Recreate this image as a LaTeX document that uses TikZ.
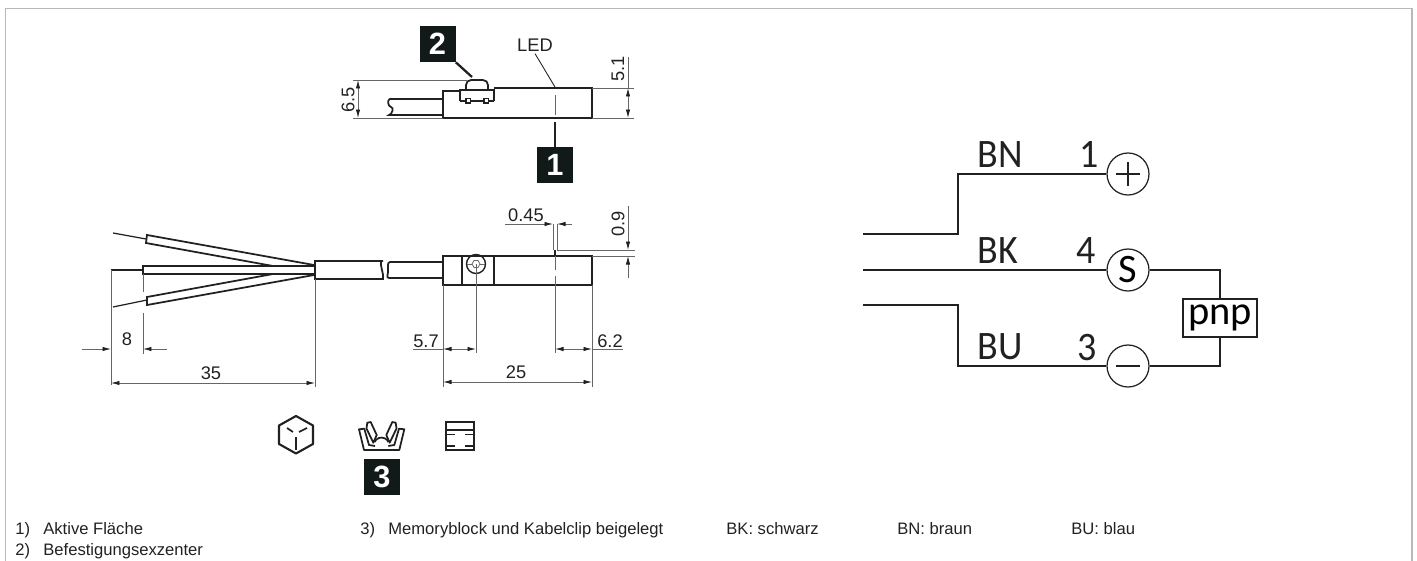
\documentclass[tikz,border=0pt]{standalone}
\usepackage{fontspec}
\setmainfont{Liberation Sans}
\newfontfamily\wiringfont{Carlito}
\usepackage{xcolor}
\definecolor{badgeblack}{rgb}{0.07,0.10,0.10}
\definecolor{framegray}{rgb}{0.72,0.72,0.72}
\definecolor{dimgray}{rgb}{0.40,0.40,0.40}
\definecolor{inkblack}{rgb}{0.13,0.13,0.13}
\usetikzlibrary{arrows.meta}
\usetikzlibrary{positioning}
\tikzset{
	outline/.style={line width=1pt, color=inkblack},
	thinwire/.style={line width=0.7pt, color=inkblack},
	dimline/.style={line width=0.5pt, color=dimgray},
	dimarrow/.style={dimline, -{Latex[length=1.7mm,width=0.9mm,color=inkblack]}},
	dimtext/.style={font=\fontsize{10.4}{12}\selectfont, text=inkblack, inner sep=0pt},
	notetext/.style={font=\fontsize{9.45}{11}\selectfont, text=inkblack, inner sep=0pt, anchor=base west},
	badge/.style={fill=badgeblack, minimum size=0.72cm, inner sep=0pt, text=white, font=\fontsize{17.5}{18}\selectfont\bfseries},
	wirelabel/.style={font=\wiringfont\fontsize{23}{24}\selectfont, text=inkblack, inner sep=0pt, anchor=base west, xscale=0.94},
	terminal/.style={draw=inkblack, line width=0.7pt, circle, minimum size=0.84cm, inner sep=0pt, fill=white, font=\wiringfont\fontsize{23}{24}\selectfont},
	wire/.style={line width=0.7pt, color=inkblack},
}
\begin{document}
\begin{tikzpicture}[x=0.02cm, y=-0.02cm]
	\useasboundingbox (0,0) rectangle (1417,561);
	
	% Frame
	\draw[line width=0.8pt, color=framegray] (5.5,561) -- (5.5,8.5) -- (1412,8.5) -- (1412,561);
	
	% Side view, body
	\draw[outline] (460,91) -- (443,91) -- (443,118) -- (592,118) -- (592,88) -- (494,88);
	\draw[outline] (460,101) -- (460,90) -- (494,90) -- (494,101);
	\draw[thinwire] (460,101) -- (494,101);
	\draw[outline] (466,90) -- (466,85) to[out=90,in=180] (471,80) -- (483,80) to[out=0,in=90] (488,85) -- (488,90);
	\draw[thinwire, fill=white] (466,98.5) rectangle ++(4.5,4.5);
	\draw[thinwire, fill=white] (484,98.5) rectangle ++(4.5,4.5);
	\draw[outline] (443,99) -- (390,99) to[out=190,in=170] (391,107) to[out=-10,in=10] (389,115) -- (443,115);
	\draw[dimline] (555,95) -- (555,115);
	
	% Side view, dimensions
	\draw[dimline] (353,80) -- (467,80);
	\draw[dimline] (353,118) -- (443,118);
	\draw[dimline] (592,88) -- (634,88);
	\draw[dimline] (592,118) -- (634,118);
	\draw[dimarrow] (358,99) -- (358,80);
	\draw[dimarrow] (358,99) -- (358,118);
	\draw[dimarrow] (628,103) -- (628,88);
	\draw[dimarrow] (628,103) -- (628,118);
	\draw[dimline] (628,88) -- (628,57);
	\node[dimtext, rotate=90] (sixfive) at (348,100) {6.5};
	\node[dimtext, rotate=90] (fiveone) at (618,69) {5.1};
	
	% LED mark and badges
	\node[dimtext] (led) at (535,45) {LED};
	\coordinate (ledpoint) at (555,87);
	\draw[line width=0.5pt, color=inkblack] (led.south) ++(0,2) -- (ledpoint);
	\node[badge] (badgeone) at (555,165) {1};
	\coordinate (activeface) at (555,122);
	\draw[line width=1.3pt, color=inkblack] (badgeone.north) -- (activeface);
	\node[badge] (badgetwo) at (437.5,44) {2};
	\coordinate (eccentric) at (472,77);
	\draw[line width=1.3pt, color=inkblack] (badgetwo.south east) -- (eccentric);
	
	% Top view, wires
	\draw[thinwire] (113,233) -- (146,239);
	\draw[thinwire] (111,270) -- (143,270);
	\draw[thinwire] (113,307) -- (147,300);
	\draw[outline] (273,266) -- (146,243) -- (147,235) -- (314,265);
	\draw[outline] (314,266) -- (143,266) -- (143,274) -- (314,274);
	\draw[outline] (273,274) -- (147,297) -- (147,305) -- (314,275);
	
	% Top view, cable
	\draw[outline, fill=white] (383,261) -- (315,261) -- (315,279) -- (383,279) to[out=80,in=-80] (382,270) to[out=100,in=-100] (381,261);
	\draw[outline] (443,262) -- (390,262) to[out=190,in=80] (388,270) to[out=-80,in=180] (389,278) -- (443,278);
	
	% Top view, body
	\draw[outline] (443,256) rectangle (592,285);
	\draw[outline] (462,256) -- (462,285);
	\draw[outline] (494,256) -- (494,285);
	\draw[line width=0.8pt, color=inkblack] (476,264) circle (9.5);
	\draw[line width=0.45pt, color=dimgray] (472,264) -- ++(60:4) -- ++(0:4) -- ++(-60:4) -- ++(-120:4) -- ++(180:4) -- cycle;
	\draw[line width=0.45pt, color=dimgray] (467,264) -- (472,264);
	\draw[line width=0.45pt, color=dimgray] (480,264) -- (485,264);
	\draw[outline] (555,250) -- (555,256);
	
	% Top view, dimensions
	\draw[dimline] (111,270) -- (111,385);
	\draw[dimline] (143,274) -- (143,292);
	\draw[dimline] (143,313) -- (143,354);
	\draw[dimline] (315,279) -- (315,387);
	\draw[dimline] (443,285) -- (443,387);
	\draw[dimline] (476,264) -- (476,353);
	\draw[dimline] (555,256) -- (555,270);
	\draw[dimline] (555,276) -- (555,353);
	\draw[dimline] (592,285) -- (592,387);
	\draw[dimline] (553,224) -- (553,250);
	\draw[dimline] (557,224) -- (557,250);
	\draw[dimline] (557,250) -- (635,250);
	\draw[dimline] (592,256) -- (635,256);
	\draw[dimarrow] (82,349) -- (111,349);
	\draw[dimarrow] (167,349) -- (143,349);
	\draw[dimarrow] (211,383) -- (111,383);
	\draw[dimarrow] (211,383) -- (315,383);
	\draw[dimline] (413,349) -- (443,349);
	\draw[dimarrow] (460,349) -- (443,349);
	\draw[dimarrow] (460,349) -- (476,349);
	\draw[dimline] (592,349) -- (623,349);
	\draw[dimarrow] (574,349) -- (555,349);
	\draw[dimarrow] (574,349) -- (592,349);
	\draw[dimarrow] (516,382) -- (443,382);
	\draw[dimarrow] (516,382) -- (592,382);
	\draw[dimarrow] (505,224) -- (553,224);
	\draw[dimarrow] (572,224) -- (557,224);
	\draw[dimarrow] (628,206) -- (628,250);
	\draw[dimarrow] (628,278) -- (628,256);
	\node[dimtext] (eight) at (127,339) {8};
	\node[dimtext] (thirtyfive) at (211,373) {35};
	\node[dimtext] (fiveseven) at (426,341) {5.7};
	\node[dimtext] (sixtwo) at (610,341) {6.2};
	\node[dimtext] (twentyfive) at (516,372) {25};
	\node[dimtext] (zerofourfive) at (526,215) {0.45};
	\node[dimtext, rotate=90] (zeronine) at (618,224) {0.9};
	
	% Cube icon
	\draw[outline, line width=1.2pt, line join=round] (296,416) -- (313,425.5) -- (313,444) -- (296,453.5) -- (279,444) -- (279,425.5) -- cycle;
	\draw[outline] (287,428) -- (293,432);
	\draw[outline] (307,428) -- (299,432);
	\draw[outline] (296,437) -- (296,450);
	
	% Clip icon
	\draw[outline, line join=round] (375,446) -- (369,445) -- (364.3,428.7) -- (359,429.3) -- (364,450) -- (399.3,450) -- (404.3,429.3) -- (399,428.7) -- (394.3,445) -- (388.3,446);
	\draw[outline] (374.5,442) arc (205:335:7.7);
	\draw[outline, line join=round] (367.3,422.7) -- (370.7,422) -- (376.7,435) -- (373.3,442.7) -- (366.5,428.5) -- cycle;
	\draw[outline, line join=round] (395.7,422.7) -- (392.3,422) -- (386.3,435) -- (389.7,442.7) -- (396.5,428.5) -- cycle;
	\node[badge] (badgethree) at (382,477) {3};
	
	% Block icon
	\draw[outline, line width=1.2pt] (446,422) rectangle (474,450);
	\draw[outline] (446,430) -- (474,430);
	\draw[outline] (446,434.5) -- (455,434.5);
	\draw[outline] (465,434.5) -- (474,434.5);
	\draw[outline] (446,446) -- (455,446);
	\draw[outline] (465,446) -- (474,446);
	
	% Wiring
	\node[terminal] (plus) at (1128,174) {};
	\node[terminal] (signal) at (1128,270) {S};
	\node[terminal] (minus) at (1128,366) {};
	\draw[wire] (1116,174) -- (1140,174);
	\draw[wire] (1128,162) -- (1128,186);
	\draw[wire] (1116,366) -- (1140,366);
	\node[draw=inkblack, line width=0.7pt, fill=white, minimum width=1.48cm, minimum height=0.76cm, inner sep=0pt, font=\wiringfont\fontsize{23}{24}\selectfont] (pnp) at (1220,318) {pnp};
	\coordinate (brownend) at (863,234);
	\coordinate (blackend) at (863,270);
	\coordinate (blueend) at (863,305);
	\draw[wire] (brownend) -- (958,234) -- (958,174) -- (plus.west);
	\draw[wire] (blackend) -- (signal.west);
	\draw[wire] (blueend) -- (958,305) -- (958,366) -- (minus.west);
	\draw[wire] (signal.east) -| (pnp.north);
	\draw[wire] (minus.east) -| (pnp.south);
	\node[wirelabel] (labelbn) at (977,167) {BN};
	\node[wirelabel] (labelbk) at (977,263) {BK};
	\node[wirelabel] (labelbu) at (977,359) {BU};
	\node[wirelabel] (labelone) at (1079,167) {1};
	\node[wirelabel] (labelfour) at (1076,263) {4};
	\node[wirelabel] (labelthree) at (1077,360) {3};
	
	% Notes
	\node[notetext] (noteone) at (15,534) {1)};
	\node[notetext] (noteonetext) at (43,534) {Aktive Fläche};
	\node[notetext] (notetwo) at (15,555.5) {2)};
	\node[notetext] (notetwotext) at (43,555.5) {Befestigungsexzenter};
	\node[notetext] (notethree) at (360,534) {3)};
	\node[notetext] (notethreetext) at (388,534) {Memoryblock und Kabelclip beigelegt};
	\node[notetext] (notebk) at (726,534) {BK: schwarz};
	\node[notetext] (notebn) at (897,534) {BN: braun};
	\node[notetext] (notebu) at (1071,534) {BU: blau};
\end{tikzpicture}
\end{document}
